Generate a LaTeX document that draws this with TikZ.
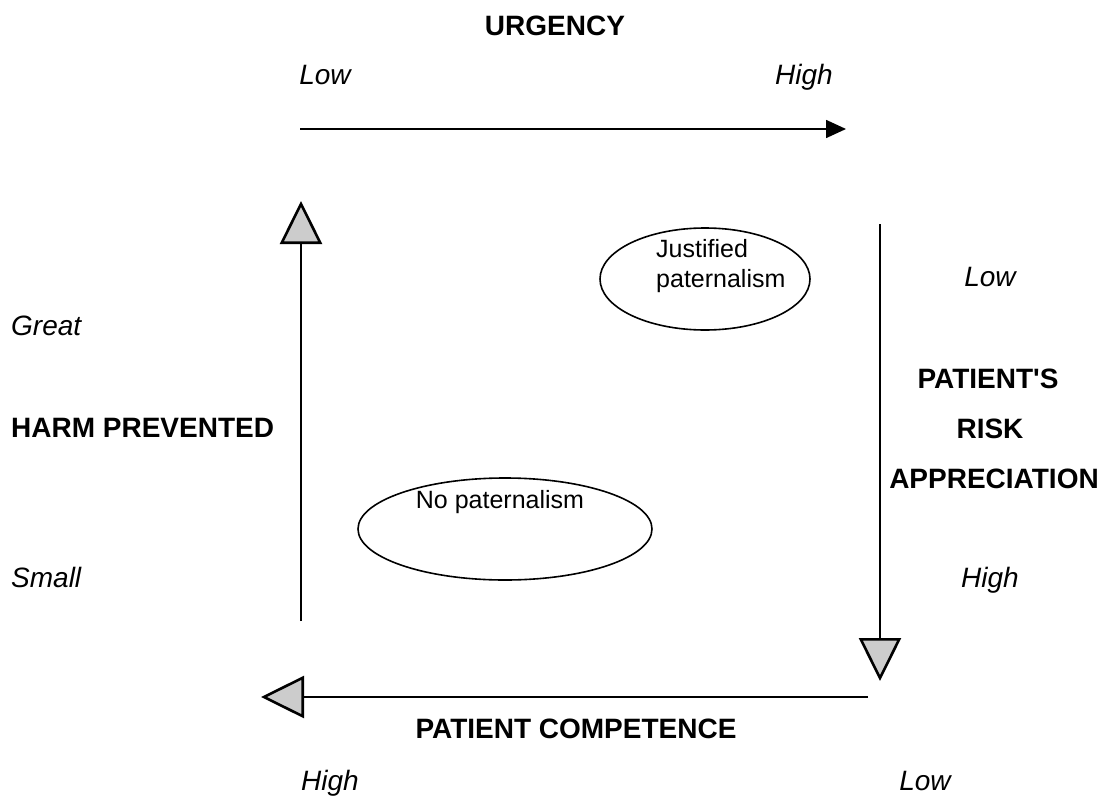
\documentclass[tikz,border=0pt]{standalone}
\usepackage{fontspec}
\setmainfont{Liberation Sans}[Ligatures=TeXOff]
\usetikzlibrary{arrows.meta,positioning,shapes.geometric}

\begin{document}
\begin{tikzpicture}[x=1pt,y=-1pt,
    heading/.style={font=\fontsize{28}{30}\selectfont\bfseries, anchor=base, inner sep=0pt},
    level/.style={font=\fontsize{28}{30}\selectfont\itshape, anchor=base, inner sep=0pt},
    blobtext/.style={font=\fontsize{25}{30}\selectfont, anchor=base west, inner sep=0pt},
    blob/.style={draw, ellipse, line width=1.6pt, inner sep=0pt},
    axis/.style={line width=1.6pt, -{Triangle[length=43pt,width=42pt,fill=gray!40,line width=2.6pt]}},
    timeline/.style={line width=1.6pt, -{Triangle[length=20pt,width=18pt]}}]
    \useasboundingbox (0,0) rectangle (1114,798);

    % urgency axis
    \node[heading] (urgency) at (555,35) {URGENCY};
    \node[level] (ulow) at (325,84) {Low};
    \node[level] (uhigh) at (804,84) {High};
    \coordinate (ustart) at (300,129);
    \coordinate (uend) at (846,129);
    \draw[timeline] (ustart) -- (uend);

    % harm prevented axis
    \coordinate (hstart) at (301,621);
    \coordinate (hend) at (301,201);
    \draw[axis] (hstart) -- (hend);
    \node[level, anchor=base west] (great) at (11,335) {Great};
    \node[heading, anchor=base west] (harm) at (11,437) {HARM PREVENTED};
    \node[level, anchor=base west] (small) at (11,587) {Small};

    % risk appreciation axis
    \coordinate (rstart) at (880,224);
    \coordinate (rend) at (880,681);
    \draw[axis] (rstart) -- (rend);
    \node[level] (rlow) at (990,286) {Low};
    \node[heading] (patients) at (988,388) {PATIENT'S};
    \node[heading] (risk) at (990,438) {RISK};
    \node[heading] (appr) at (994,488) {APPRECIATION};
    \node[level] (rhigh) at (990,587) {High};

    % competence axis
    \coordinate (cstart) at (868,697);
    \coordinate (cend) at (261,697);
    \draw[axis] (cstart) -- (cend);
    \node[heading] (competence) at (576,738) {PATIENT COMPETENCE};
    \node[level] (chigh) at (330,790) {High};
    \node[level] (clow) at (925,790) {Low};

    % regions
    \node[blob, minimum width=210pt, minimum height=102pt] (justified) at (705,279) {};
    \node[blobtext] (jtext) at (656,257) {Justified};
    \node[blobtext] (ptext) at (656,287) {paternalism};
    \node[blob, minimum width=294pt, minimum height=102pt] (none) at (505,529) {};
    \node[blobtext, anchor=base] (ntext) at (500,508) {No paternalism};
\end{tikzpicture}
\end{document}
